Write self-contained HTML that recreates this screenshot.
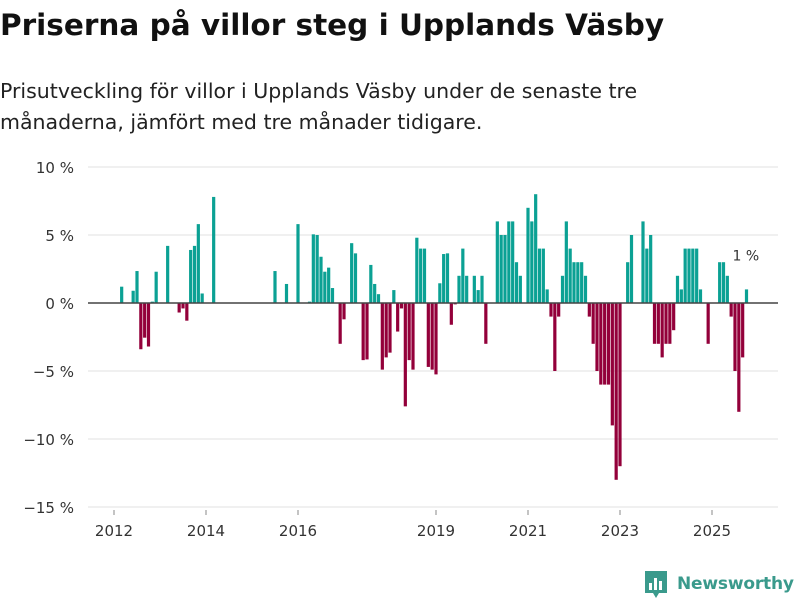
<!DOCTYPE html>
<html><head><meta charset="utf-8">
<style>
body{margin:0;background:#fff;font-family:"DejaVu Sans","Liberation Sans",sans-serif;}
#wrap{position:relative;width:800px;height:600px;overflow:hidden;}
h1{position:absolute;left:0;top:8px;margin:0;font-size:29.5px;font-weight:bold;color:#111;letter-spacing:0;}
p.sub{position:absolute;left:0;top:76px;margin:0;font-size:20.5px;line-height:31px;color:#222;width:690px;}
svg{position:absolute;left:0;top:0;}
</style></head><body>
<div id="wrap">
<h1>Priserna på villor steg i Upplands Väsby</h1>
<p class="sub">Prisutveckling för villor i Upplands Väsby under de senaste tre månaderna, jämfört med tre månader tidigare.</p>
<svg id="chart" width="800" height="600"></svg>
</div>
<script>
const months = ["2012-03","2012-06","2012-07","2012-08","2012-09","2012-10","2012-11","2012-12","2013-03","2013-06","2013-07","2013-08","2013-09","2013-10","2013-11","2013-12","2014-03","2015-07","2015-10","2016-01","2016-04","2016-05","2016-06","2016-07","2016-08","2016-09","2016-10","2016-12","2017-01","2017-03","2017-04","2017-06","2017-07","2017-08","2017-09","2017-10","2017-11","2017-12","2018-01","2018-02","2018-03","2018-04","2018-05","2018-06","2018-07","2018-08","2018-09","2018-10","2018-11","2018-12","2019-01","2019-02","2019-03","2019-04","2019-05","2019-06","2019-07","2019-08","2019-09","2019-11","2019-12","2020-01","2020-02","2020-05","2020-06","2020-07","2020-08","2020-09","2020-10","2020-11","2021-01","2021-02","2021-03","2021-04","2021-05","2021-06","2021-07","2021-08","2021-09","2021-10","2021-11","2021-12","2022-01","2022-02","2022-03","2022-04","2022-05","2022-06","2022-07","2022-08","2022-09","2022-10","2022-11","2022-12","2023-01","2023-03","2023-04","2023-07","2023-08","2023-09","2023-10","2023-11","2023-12","2024-01","2024-02","2024-03","2024-04","2024-05","2024-06","2024-07","2024-08","2024-09","2024-10","2024-12","2025-03","2025-04","2025-05","2025-06","2025-07","2025-08","2025-09","2025-10"];
const values = [1.2,0.9,2.35,-3.4,-2.55,-3.2,0.1,2.3,4.2,-0.7,-0.4,-1.3,3.9,4.2,5.8,0.7,7.8,2.35,1.4,5.8,0.1,5.05,5.0,3.4,2.3,2.6,1.1,-3.0,-1.2,4.4,3.65,-4.2,-4.15,2.8,1.4,0.65,-4.9,-4.0,-3.65,0.95,-2.1,-0.4,-7.6,-4.2,-4.9,4.8,4.0,4.0,-4.7,-4.9,-5.25,1.45,3.6,3.65,-1.6,-0.1,2.0,4.0,2.0,2.0,0.95,2.0,-3.0,6,5,5,6,6,3,2,7,6,8,4,4,1,-1,-5,-1,2,6,4,3,3,3,2,-1,-3,-5,-6,-6,-6,-9,-13,-12,3,5,6,4,5,-3,-3,-4,-3,-3,-2,2,1,4,4,4,4,1,-3,3,3,2,-1,-5,-8,-4,1];
const yTicks = [10,5,0,-5,-10,-15];
const yTickLabels = ["10 %","5 %","0 %","\u22125 %","\u221210 %","\u221215 %"];
const xTicks = [2012,2014,2016,2019,2021,2023,2025];
const lastLabel = "1 %";

const svg = document.getElementById('chart');
const NS = 'http://www.w3.org/2000/svg';
const FONT = 'DejaVu Sans, Liberation Sans, sans-serif';
function y(v){return 303 - v*13.6;}
function xm(str){const [yy,mm]=str.split('-').map(Number);return 114 + ((yy-2012)*12 + (mm-1))*(46/12);}
function xy(yr){return 114 + (yr-2012)*46;}
function mk(tag,attrs){const e=document.createElementNS(NS,tag);for(const k in attrs)e.setAttribute(k,attrs[k]);svg.appendChild(e);return e;}

yTicks.forEach((t,i)=>{
  if(t!==0){
    const g=mk('line',{x1:88,x2:778,y1:y(t),y2:y(t),stroke:'#e0e0e0','stroke-width':1});
    
    
  }
  const tx=mk('text',{x:74,y:y(t)+6,'text-anchor':'end','font-size':15,fill:'#333','font-family':FONT});
  tx.textContent=yTickLabels[i];
  
  
});
xTicks.forEach(t=>{
  const l=mk('line',{x1:xy(t),x2:xy(t),y1:510,y2:515,stroke:'#888','stroke-width':1});
  
  
  const tx=mk('text',{x:xy(t),y:536,'text-anchor':'middle','font-size':15,fill:'#333','font-family':FONT});
  tx.textContent=String(t);
  
  
});
months.forEach((m,i)=>{
  const v=values[i];
  const x=xm(m)-1.6;
  const r=mk('rect',{x:x,y:Math.min(y(v),y(0)),width:3.2,height:Math.abs(y(v)-y(0)),fill:v>=0?'#0ba194':'#93003a'});
  
  
});
const zl=mk('line',{x1:88,x2:778,y1:y(0),y2:y(0),stroke:'#444','stroke-width':1.6});


const lt=mk('text',{x:xm(months[months.length-1])-14,y:y(values[values.length-1])-29,'font-size':14,fill:'#333','font-family':FONT});
lt.textContent=lastLabel;



const lg=mk('g',{});


const box=document.createElementNS(NS,'path');
box.setAttribute('d','M645 571 h22 v22 h-8 l-3 5 l-3 -5 h-8 z');
box.setAttribute('fill','#3a9a8c');
lg.appendChild(box);
[[649,583,3,7],[654,578,3,12],[659,581,3,9]].forEach(b=>{
  const r=document.createElementNS(NS,'rect');
  r.setAttribute('x',b[0]);r.setAttribute('y',b[1]);r.setAttribute('width',b[2]);r.setAttribute('height',b[3]);r.setAttribute('fill','#fff');
  lg.appendChild(r);
});
const lgt=document.createElementNS(NS,'text');
lgt.setAttribute('x',677);lgt.setAttribute('y',589);lgt.setAttribute('font-size',17);lgt.setAttribute('font-weight','bold');lgt.setAttribute('fill','#3a9a8c');lgt.setAttribute('font-family',FONT);
lgt.setAttribute('textLength',117);
lgt.textContent='Newsworthy';
lg.appendChild(lgt);
</script>
</body></html>
